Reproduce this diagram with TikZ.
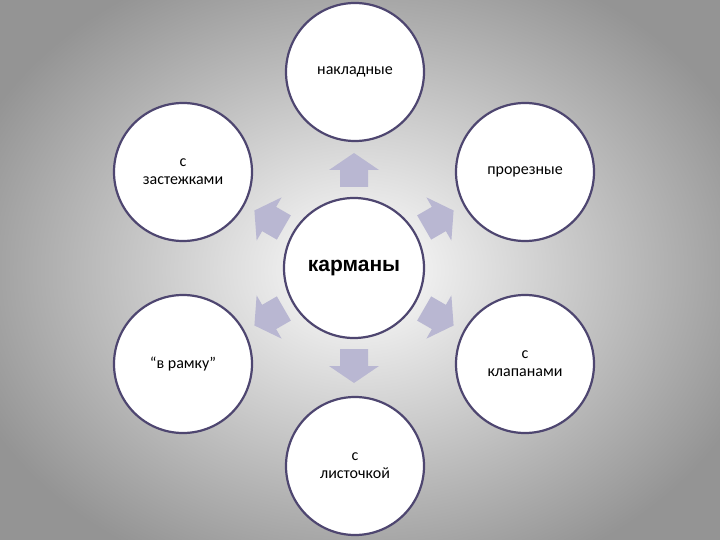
\documentclass[tikz,border=0pt]{standalone}
\usepackage{fontspec}
\setmainfont{Carlito}
\newfontfamily\arialf{Liberation Sans}
\begin{document}
\begin{tikzpicture}[x=1pt,y=-1pt,
  circ/.style={circle,draw=cborder,line width=2.2pt,fill=white,minimum size=138pt,inner sep=0pt,align=center,font=\fontsize{16}{18}\selectfont},
  arr/.style={fill=arrcol,draw=none}]
\definecolor{cborder}{HTML}{4E4670}
\definecolor{arrcol}{HTML}{B9B7D2}
\useasboundingbox (0,0) rectangle (720,540);
\shade[inner color=white,outer color=black!42] (-60,-60) rectangle (780,600);
\node[circ,minimum size=140pt,font=\arialf\bfseries\fontsize{21}{23}\selectfont] (c) at (354,268) {карманы};
\node[circ] (t) at (355,72) {накладные};
\node[circ] (ur) at (525,172) {прорезные};
\node[circ] (ul) at (183,172) {с\\застежками};
\node[circ] (lr) at (525,364) {с\\клапанами};
\node[circ] (ll) at (183,364) {“в рамку”};
\node[circ] (b) at (355,466) {с\\листочкой};
\foreach \n/\a in {t/-90,ur/-30,ul/-150,lr/30,ll/150,b/90}{
  \path (c.center) ++(\a:81) coordinate (s\n);
  \begin{scope}[shift={(s\n)},rotate=-\a]
    \fill[arr] (0,-14) -- (17,-14) -- (17,-25) -- (34,0) -- (17,25) -- (17,14) -- (0,14) -- cycle;
  \end{scope}
}
\end{tikzpicture}
\end{document}
